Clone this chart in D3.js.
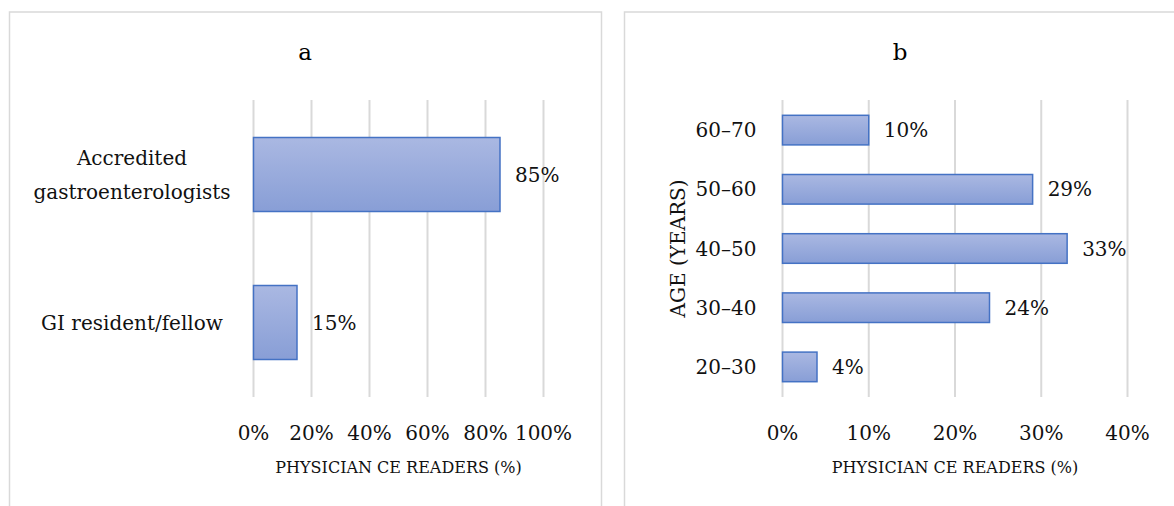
<!DOCTYPE html>
<html>
<head>
<meta charset="utf-8">
<script src="https://cdn.jsdelivr.net/npm/d3@7"></script>
<style>
    body { margin: 0; background: #fff; }
    svg { display: block; }
</style>
</head>
<body>
<div class="chart"></div>
<script>
const fontFamily = '"DejaVu Serif", serif';

// panel a
const roleCats = ['Accredited gastroenterologists', 'GI resident/fellow'];
const roleLines = [['Accredited', 'gastroenterologists'], ['GI resident/fellow']];
const roleValues = [85, 15];
const roleTicks = [0, 20, 40, 60, 80, 100];

// panel b
const ageCats = ['60\u201370', '50\u201360', '40\u201350', '30\u201340', '20\u201330'];
const ageValues = [10, 29, 33, 24, 4];
const ageTicks = [0, 10, 20, 30, 40];

const xTitle = 'PHYSICIAN CE READERS (%)';

let width = 1174, height = 506;
let fs = 20;

let svg = d3.select('.chart')
    .append('svg')
    .attr('width', width)
    .attr('height', height)
    .attr('font-family', fontFamily);

let defs = svg.append('defs');
let grad = defs.append('linearGradient')
    .attr('id', 'barfill')
    .attr('x1', 0).attr('y1', 0)
    .attr('x2', 0).attr('y2', 1);
grad.append('stop').attr('offset', '0%').attr('stop-color', '#aab8e2');
grad.append('stop').attr('offset', '100%').attr('stop-color', '#889ed6');

function draw_panel(o) {
    let g = svg.append('g');

    g.append('rect')
        .attr('x', o.box[0] + 0.5)
        .attr('y', 12)
        .attr('width', o.box[1] - o.box[0])
        .attr('height', 520)
        .attr('fill', 'none')
        .attr('stroke', '#d9d9d9')
        .attr('stroke-width', 1.5);

    let x = d3.scaleLinear()
        .domain([0, o.ticks[o.ticks.length - 1]])
        .range(o.xRange);

    let y = d3.scaleBand()
        .domain(o.cats)
        .range([100.5, 396.5])
        .paddingInner(0.5)
        .paddingOuter(0.25);

    g.append('text')
        .attr('x', o.titleX)
        .attr('y', 60)
        .attr('text-anchor', 'middle')
        .attr('font-size', 23)
        .text(o.title);

    // gridlines
    g.selectAll('.grid')
        .data(o.ticks)
        .join('line')
        .attr('x1', d => x(d))
        .attr('x2', d => x(d))
        .attr('y1', 100)
        .attr('y2', 397)
        .attr('stroke', '#d9d9d9')
        .attr('stroke-width', 2);

    // tick labels
    g.selectAll('.tick')
        .data(o.ticks)
        .join('text')
        .attr('x', d => x(d))
        .attr('y', 440)
        .attr('text-anchor', 'middle')
        .attr('font-size', fs)
        .attr('fill', '#111')
        .text(d => d + '%');

    g.append('text')
        .attr('x', (o.xRange[0] + o.xRange[1]) / 2)
        .attr('y', 473)
        .attr('text-anchor', 'middle')
        .attr('font-size', 16)
        .attr('fill', '#111')
        .text(xTitle);

    g.selectAll('.bar')
        .data(o.values)
        .join('rect')
        .attr('x', x(0))
        .attr('y', (d, i) => y(o.cats[i]))
        .attr('width', d => x(d) - x(0))
        .attr('height', y.bandwidth())
        .attr('fill', 'url(#barfill)')
        .attr('stroke', '#4472c4')
        .attr('stroke-width', 1.5);

    g.selectAll('.val')
        .data(o.values)
        .join('text')
        .attr('x', d => x(d) + 15)
        .attr('y', (d, i) => y(o.cats[i]) + y.bandwidth() / 2)
        .attr('dy', '0.35em')
        .attr('font-size', fs)
        .attr('fill', '#111')
        .text(d => d + '%');

    // category labels
    let labels = g.append('g')
        .attr('font-size', fs)
        .attr('fill', '#111')
        .attr('text-anchor', o.centerLabels ? 'middle' : 'end');

    let lab = labels.selectAll('text')
        .data(o.cats)
        .join('text')
        .attr('y', d => y(d) + y.bandwidth() / 2);

    lab.each(function (d, i) {
        let lines = o.lines ? o.lines[i] : [d];
        let t = d3.select(this);
        lines.forEach((s, j) => {
            t.append('tspan')
                .attr('y', y(d) + y.bandwidth() / 2 + (j - (lines.length - 1) / 2) * 34)
                .attr('dy', '0.35em')
                .text(s);
        });
    });

    if (o.centerLabels) {
        let maxW = d3.max(lab.selectAll('tspan').nodes(), n => n.getComputedTextLength());
        lab.selectAll('tspan').attr('x', x(0) - 23 - maxW / 2);
    } else {
        lab.selectAll('tspan').attr('x', x(0) - 26);
    }

    if (o.yTitle) {
        g.append('text')
            .attr('transform', `translate(${o.yTitleX}, ${(100 + 397) / 2}) rotate(-90)`)
            .attr('text-anchor', 'middle')
            .attr('dy', '0.35em')
            .attr('font-size', fs)
            .attr('fill', '#111')
            .text(o.yTitle);
    }
}

draw_panel({
    box: [9, 601],
    title: 'a',
    titleX: 305,
    cats: roleCats,
    lines: roleLines,
    values: roleValues,
    ticks: roleTicks,
    xRange: [253.5, 543.5],
    centerLabels: true
});

draw_panel({
    box: [624, 1200],
    title: 'b',
    titleX: 900,
    cats: ageCats,
    values: ageValues,
    ticks: ageTicks,
    xRange: [782.5, 1127.5],
    yTitle: 'AGE (YEARS)',
    yTitleX: 678
});
</script>
</body>
</html>
